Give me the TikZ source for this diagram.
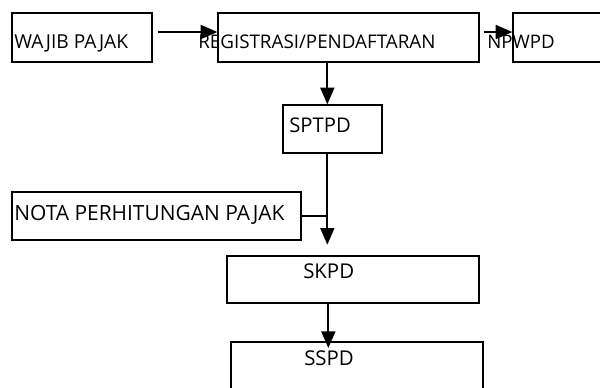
\documentclass[tikz,border=0pt]{standalone}
\usepackage{fontspec}
\setmainfont{Open Sans}
\usetikzlibrary{arrows.meta}
\usetikzlibrary{calc}
\usetikzlibrary{fit}
\begin{document}
\begin{tikzpicture}
[x=0.75pt,y=-0.75pt,
  boxdecorate/.style={draw,line width=1pt,inner sep=0pt},%
  textdecorate/.style={anchor=base west,inner sep=0pt,font=\fontsize{#1}{#1}\selectfont},
  linedecorate/.style={line width=1.4pt},
  arrowdecorate/.style={line width=1.4pt,-{Triangle[length=12.5pt,width=10.5pt]}}]
\useasboundingbox (0,0) rectangle (600,387);
\clip (0,0) rectangle (600,387);
%% boxes
\foreach \nodename/\xa/\ya/\xb/\yb in {wp/12/13/152/62, reg/218/13/479/62,
  np/513/13/640/62, sp/283/105/382/153, nota/12/192/301/240,
  sk/227/256/479/303, ss/231/342/483/420}
{
  \node (\nodename) [boxdecorate,fit={(\xa,\ya) (\xb,\yb)}] {};
}
%% texts
\foreach \nodename/\x/\y/\size/\label in {wp/14/48/14.4/{WAJIB PAJAK},
  reg/198/48/14.1/{REGISTRASI/PENDAFTARAN}, np/487/48/14/{NPWPD},
  sp/289/132/15.2/{SPTPD}, nota/14/220/15.7/{NOTA PERHITUNGAN PAJAK},
  sk/303/278/15.3/{SKPD}, ss/304/365/15.3/{SSPD}}
{
  \node (\nodename-t) at (\x,\y) [textdecorate=\size] {\label};
}
%% connectors
\coordinate (regout) at ($(reg.south west)+(110,0)$);
\coordinate (spout) at ($(sp.south west)+(45,0)$);
\coordinate (skout) at ($(sk.south west)+(102,0)$);
\draw[arrowdecorate] ($(wp.east)+(5,-5.5)$) -- ($(reg.west)+(0,-5.5)$);
\draw[arrowdecorate] ($(reg.east)+(4,-5.5)$) -- ($(np.west)+(0,-5.5)$);
\draw[arrowdecorate] (regout) -- (regout |- sp.north);
\draw[arrowdecorate,shorten >=8] (spout) -- (spout |- sk.north);
\draw[linedecorate] (nota.east) -- (nota.east -| spout);
\draw[arrowdecorate,shorten >=-5] (skout) -- (skout |- ss.north);
\end{tikzpicture}
\end{document}
